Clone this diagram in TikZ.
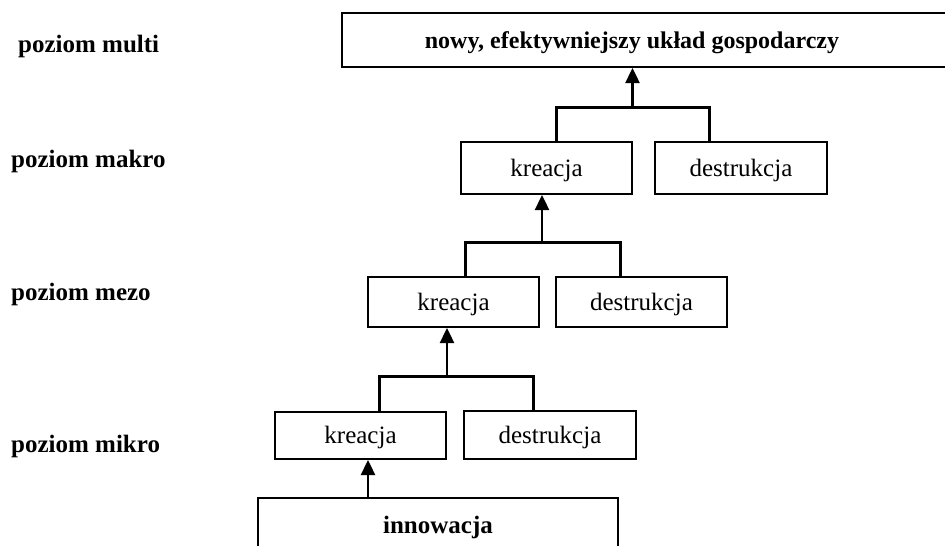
\documentclass[tikz,border=0pt]{standalone}
\usepackage{fontspec}
\setmainfont{Liberation Serif}
\usetikzlibrary{arrows.meta}
\begin{document}
\begin{tikzpicture}[x=1pt,y=-1pt,
  box/.style={draw, line width=2pt, inner sep=0pt, text height=16pt, text depth=0pt,
              font=\fontsize{25}{29}\selectfont},
  lvl/.style={anchor=base west, inner sep=0pt, font=\fontsize{25}{29}\selectfont\bfseries},
  bracket/.style={line width=3pt},
  uparrow/.style={line width=2.4pt, -{Triangle[width=14pt,length=15pt]}}]
\useasboundingbox (0,0) rectangle (945,546);
\begin{scope}
\clip (0,0) rectangle (945,546);
% level labels
\node[lvl] (lmulti) at (18,52) {poziom multi};
\node[lvl] (lmakro) at (11,167) {poziom makro};
\node[lvl] (lmezo) at (11,300) {poziom mezo};
\node[lvl] (lmikro) at (11,452) {poziom mikro};
% top box
\node[box, minimum width=618pt, minimum height=54pt] (top) at (651,40) {};
\node[anchor=base, inner sep=0pt, font=\fontsize{24}{28}\selectfont\bfseries] (toptext) at (632,48) {nowy, efektywniejszy układ gospodarczy};
% makro
\node[box, minimum width=171pt, minimum height=52pt] (kmak) at (546.5,168) {kreacja};
\node[box, minimum width=172pt, minimum height=52pt] (dmak) at (741,168) {destrukcja};
% mezo
\node[box, minimum width=171pt, minimum height=50pt] (kmez) at (453.5,302) {kreacja};
\node[box, minimum width=171pt, minimum height=50pt] (dmez) at (641.5,302) {destrukcja};
% mikro
\node[box, minimum width=171pt, minimum height=47pt] (kmik) at (360.5,435.5) {kreacja};
\node[box, minimum width=172pt, minimum height=48pt] (dmik) at (550,435) {destrukcja};
% innowacja
\node[box, minimum width=360pt, minimum height=54pt, font=\fontsize{25}{29}\selectfont\bfseries] (innow) at (438,525) {innowacja};
% bracket coordinates
\coordinate (bmakL) at (556,107);
\coordinate (bmakR) at (709,107);
\coordinate (jmak) at (632.5,107);
\coordinate (bmezL) at (465,242);
\coordinate (bmezR) at (620,242);
\coordinate (jmez) at (542,242);
\coordinate (bmikL) at (379,376);
\coordinate (bmikR) at (533,376);
\coordinate (jmik) at (447,376);
\coordinate (jinn) at (368,498);
% brackets
\draw[bracket] (bmakL |- kmak.north) -- (bmakL) -- (bmakR) -- (bmakR |- dmak.north);
\draw[bracket] (bmezL |- kmez.north) -- (bmezL) -- (bmezR) -- (bmezR |- dmez.north);
\draw[bracket] (bmikL |- kmik.north) -- (bmikL) -- (bmikR) -- (bmikR |- dmik.north);
% arrows
\draw[uparrow] (jmak) -- (jmak |- top.south);
\draw[uparrow] (jmez) -- (jmez |- kmak.south);
\draw[uparrow] (jmik) -- (jmik |- kmez.south);
\draw[uparrow] (jinn |- innow.north) -- (jinn |- kmik.south);
\end{scope}
\end{tikzpicture}
\end{document}
